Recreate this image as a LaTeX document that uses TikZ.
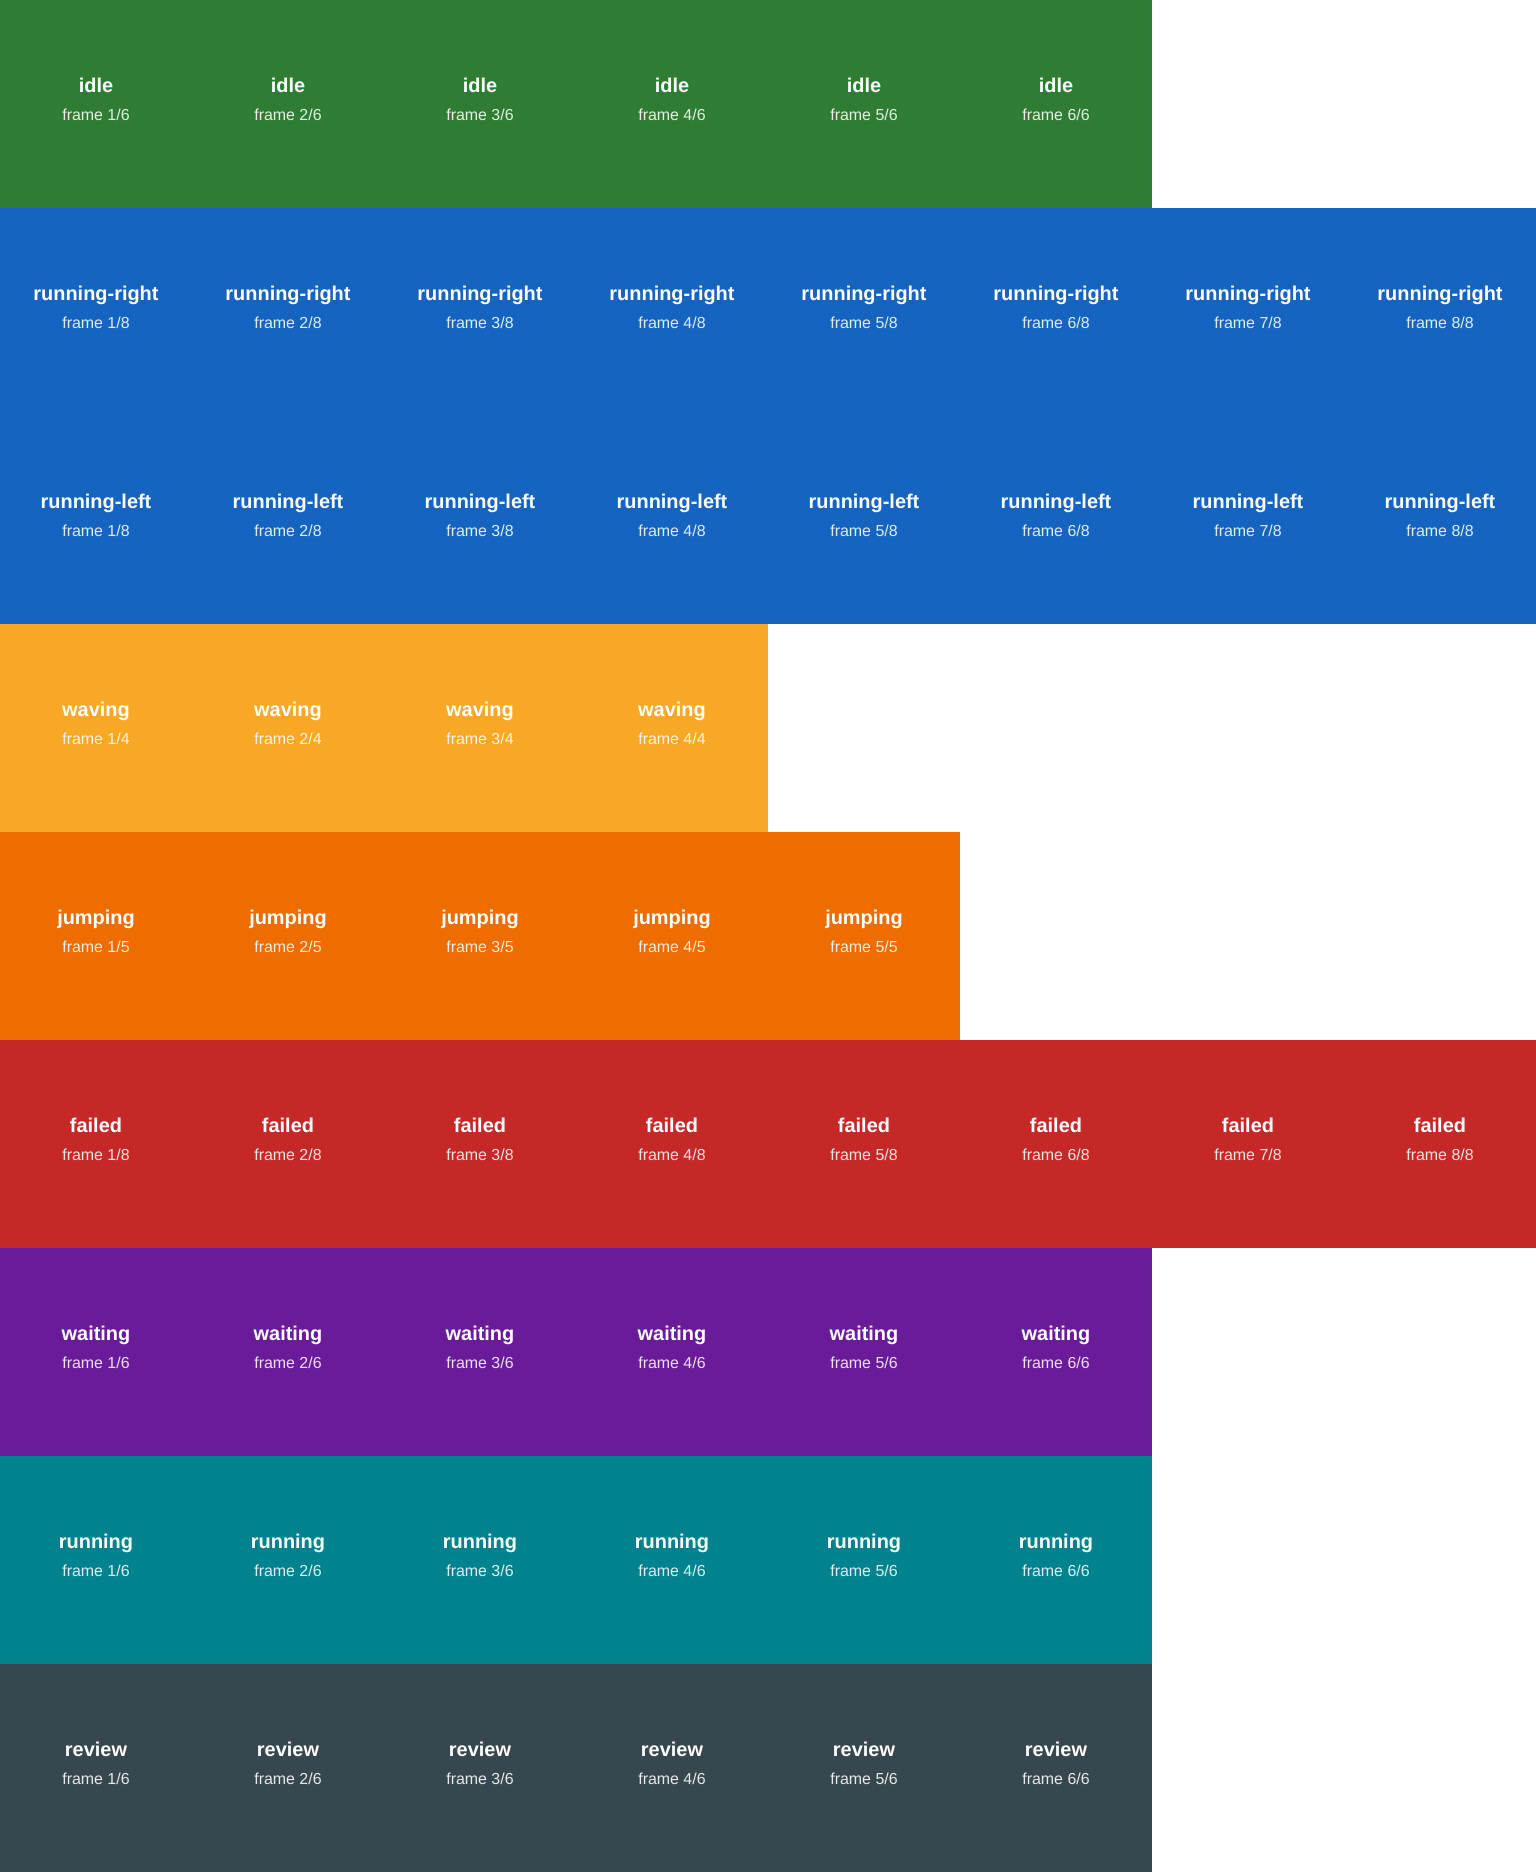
\documentclass[tikz,border=0pt]{standalone}
\usepackage{fontspec}
\setmainfont{Liberation Sans}
\definecolor{cidle}{HTML}{2E7D32}
\definecolor{cblue}{HTML}{1565C0}
\definecolor{camber}{HTML}{F9A825}
\definecolor{corange}{HTML}{EF6C00}
\definecolor{cred}{HTML}{C62828}
\definecolor{cpurple}{HTML}{6A1B9A}
\definecolor{cteal}{HTML}{00838F}
\definecolor{cgrey}{HTML}{37474F}
\tikzset{
  band/.style={fill=#1, draw=none},
  ttl/.style={anchor=base, text=white, font=\fontsize{20}{24}\selectfont\bfseries, inner sep=0pt},
  sub/.style={anchor=base, text=white, text opacity=0.88, font=\fontsize{16}{19}\selectfont, inner sep=0pt}
}
\begin{document}
\begin{tikzpicture}[x=1bp,y=-1bp]
\useasboundingbox (0,0) rectangle (1536,1872);
\fill[white] (0,0) rectangle (1536,1872);
\foreach \r/\name/\n/\col in {0/idle/6/cidle, 1/running-right/8/cblue, 2/running-left/8/cblue, 3/waving/4/camber, 4/jumping/5/corange, 5/failed/8/cred, 6/waiting/6/cpurple, 7/running/6/cteal, 8/review/6/cgrey}{
  \path[band=\col] (0,{\r*208}) rectangle ({\n*192},{(\r+1)*208});
  \foreach \c in {1,...,\n}{
    \node[ttl] (t\r-\c) at ({(\c-0.5)*192},{\r*208+92}) {\name};
    \node[sub] (s\r-\c) at ({(\c-0.5)*192},{\r*208+120}) {frame \c/\n};
  }
}
\end{tikzpicture}
\end{document}
